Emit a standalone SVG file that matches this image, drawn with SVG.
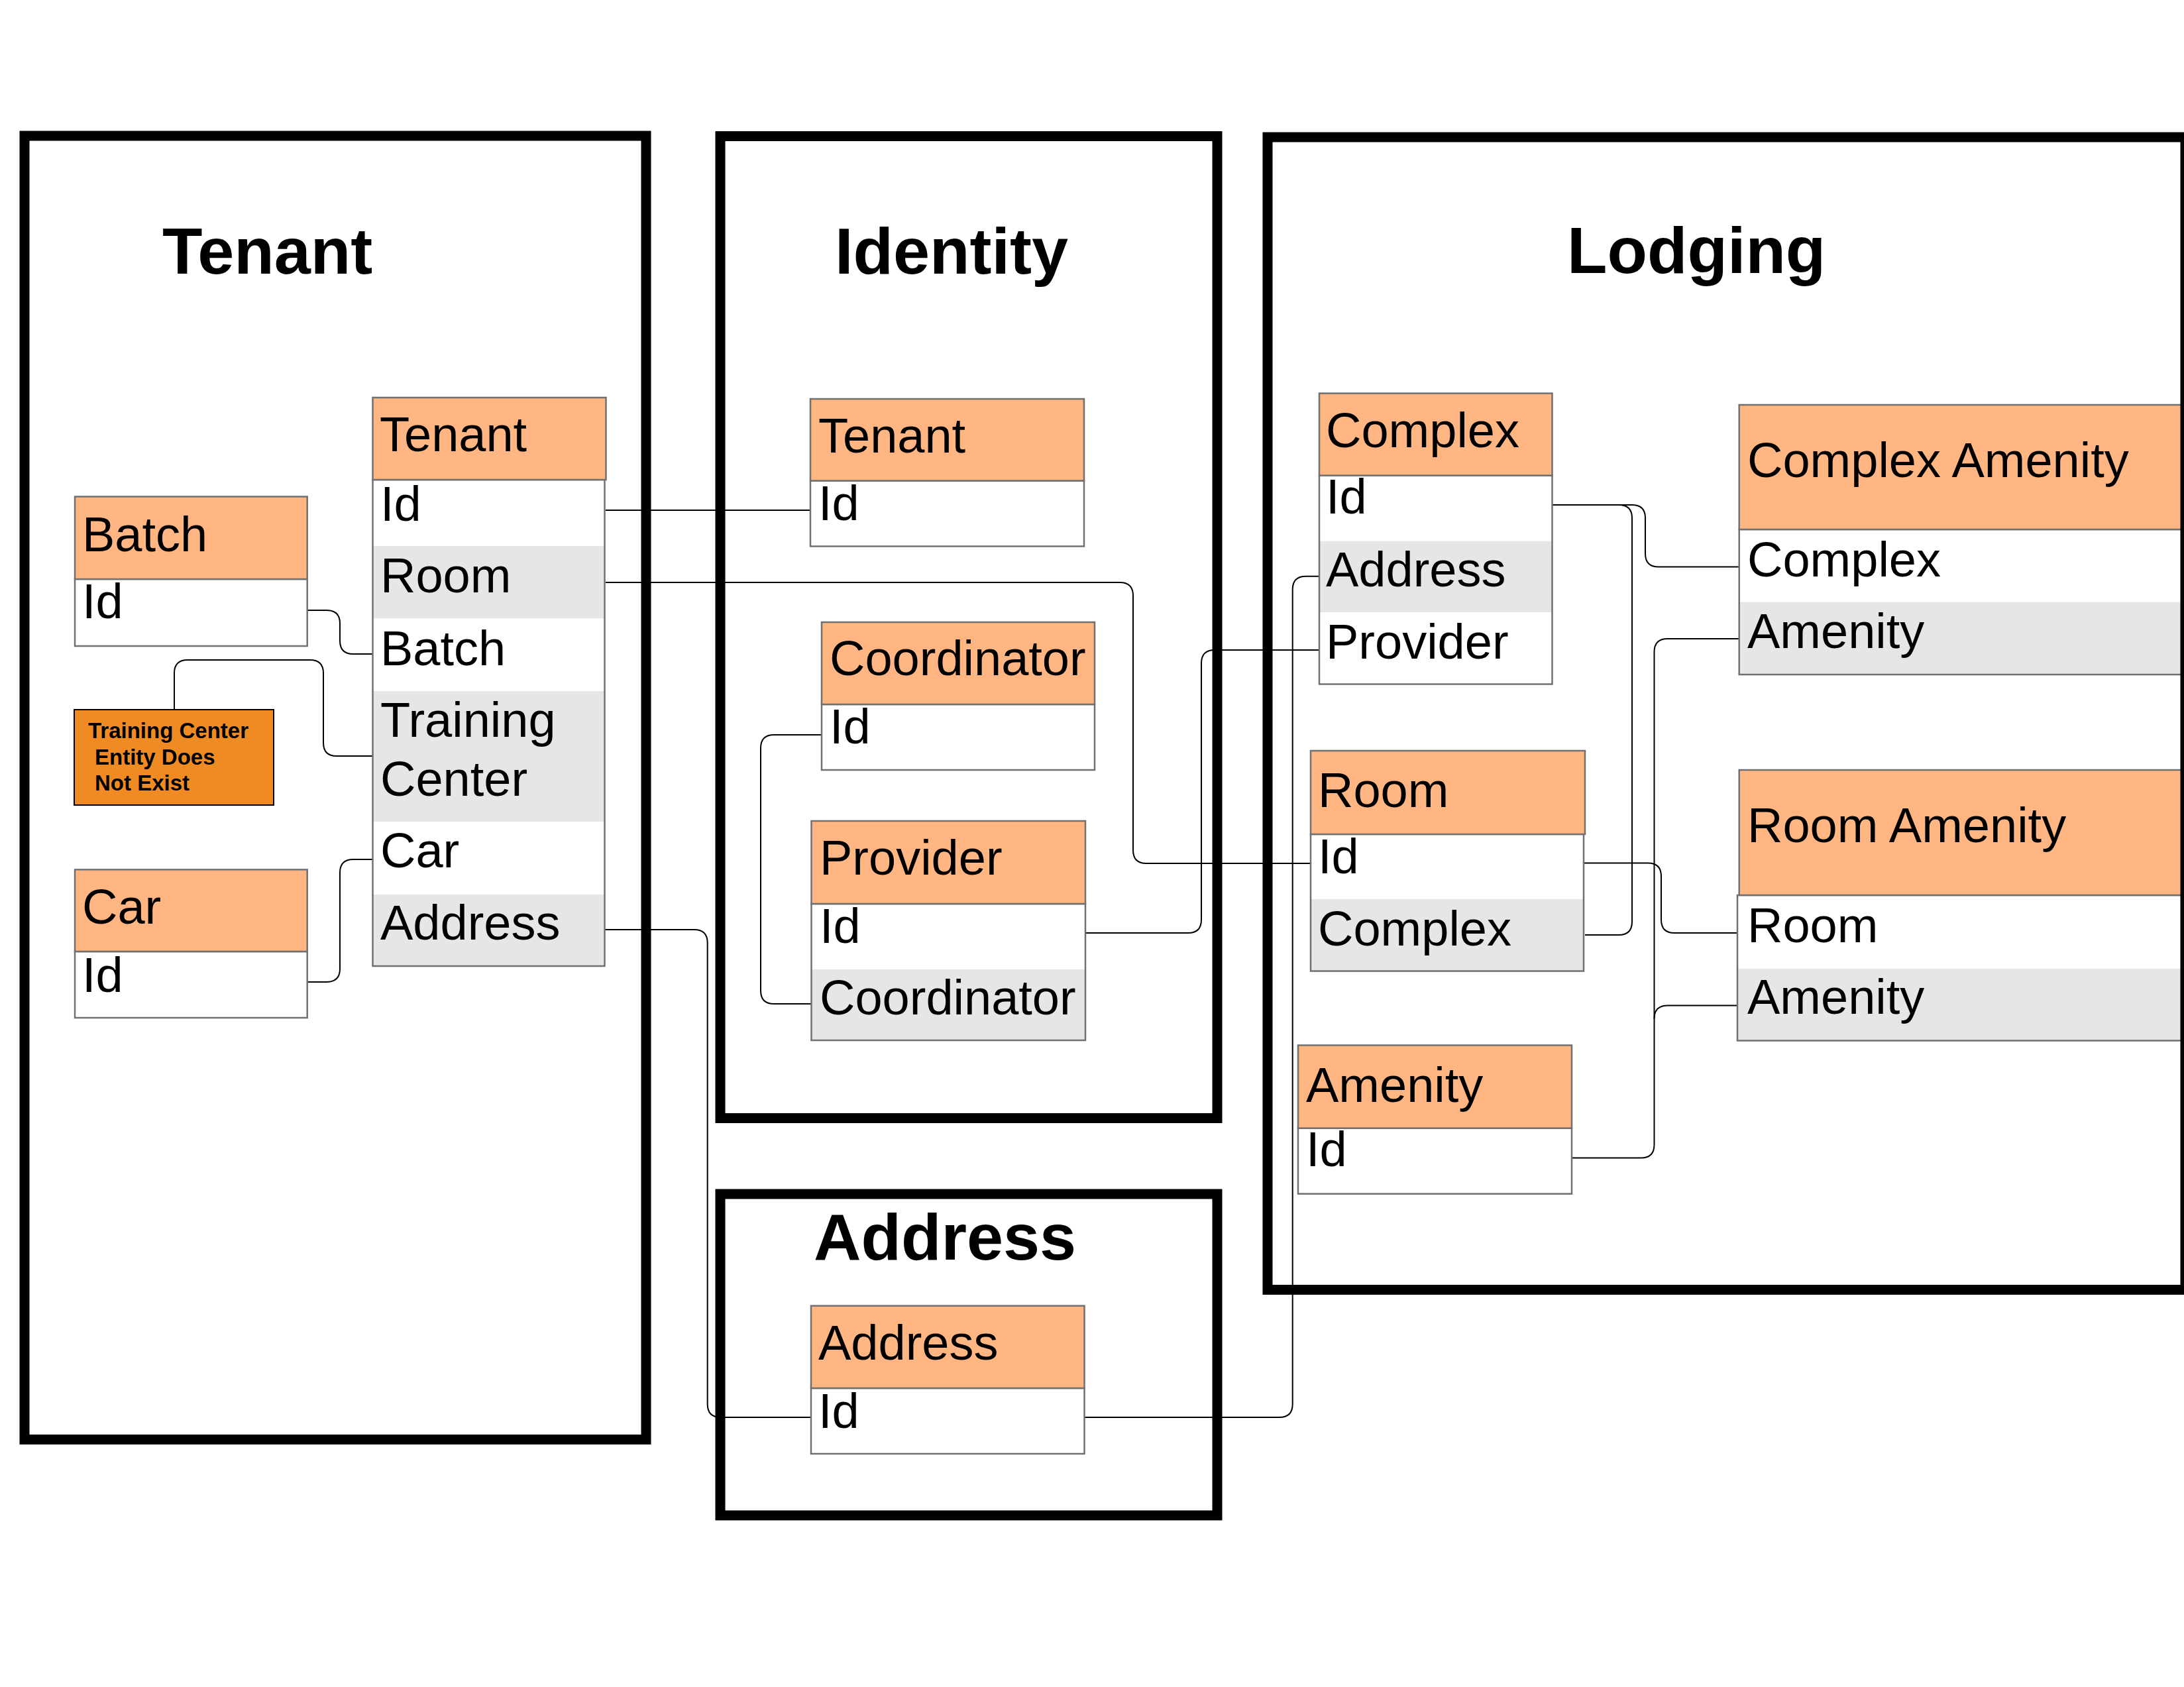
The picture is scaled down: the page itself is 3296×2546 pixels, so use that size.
<svg xmlns="http://www.w3.org/2000/svg" width="3296" height="2546" viewBox="0 0 3296 2546">
<style>
.frame{fill:none;stroke:#000;stroke-width:15}
.title{font-family:'Liberation Sans',Arial,sans-serif;font-weight:bold;font-size:99px;fill:#000}
.hdr{fill:#FFB682;stroke:#707070;stroke-width:2.5}
.bf{fill:#fff}
.alt{fill:#E6E6E6}
.bo{fill:none;stroke:#707070;stroke-width:2.5}
.t{font-family:'Liberation Sans',Arial,sans-serif;font-size:74px;fill:#000}
.note{fill:#F08B24;stroke:#000;stroke-width:2}
.nt{font-family:'Liberation Sans',Arial,sans-serif;font-weight:bold;font-size:33px;fill:#000}
.conn{fill:none;stroke:#000;stroke-width:2}
</style>
<rect width="3296" height="2546" fill="#fff"/>
<g id="connectors">
<path class="conn" d="M914 770 H1223"/>
<path class="conn" d="M914 879 H1690 Q1710 879 1710 899 V1283 Q1710 1303 1730 1303 H1978"/>
<path class="conn" d="M463.7 921 H493 Q513 921 513 941 V967 Q513 987 533 987 H562.5"/>
<path class="conn" d="M263 1071 V1016 Q263 996 283 996 H468 Q488 996 488 1016 V1121 Q488 1141 508 1141 H562.5"/>
<path class="conn" d="M463.7 1482 H493 Q513 1482 513 1462 V1317 Q513 1297 533 1297 H562.5"/>
<path class="conn" d="M912.7 1403 H1047.7 Q1067.7 1403 1067.7 1423 V2119 Q1067.7 2139 1087.7 2139 H1224"/>
<path class="conn" d="M1636.5 2139 H1930.7 Q1950.7 2139 1950.7 2119 V889.7 Q1950.7 869.7 1970.7 869.7 H1991"/>
<path class="conn" d="M1240 1109 H1168 Q1148 1109 1148 1129 V1495 Q1148 1515 1168 1515 H1224.5"/>
<path class="conn" d="M1638 1408 H1793 Q1813 1408 1813 1388 V1001 Q1813 981 1833 981 H1991"/>
<path class="conn" d="M2342.5 762 H2443 Q2463 762 2463 782 V1391 Q2463 1411 2443 1411 H2392"/>
<path class="conn" d="M2342.5 762 H2463 Q2483 762 2483 782 V835.5 Q2483 855.5 2503 855.5 H2624.7"/>
<path class="conn" d="M2390 1302.6 H2487 Q2507 1302.6 2507 1322.6 V1388 Q2507 1408 2527 1408 H2622"/>
<path class="conn" d="M2372 1747.5 H2476.5 Q2496.5 1747.5 2496.5 1727.5 V984 Q2496.5 964 2516.5 964 H2624.7"/>
<path class="conn" d="M2496.5 1537.5 Q2496.5 1517.5 2516.5 1517.5 H2622"/>
</g>
<g id="tenant-table">
<rect class="bf" x="562.5" y="724" width="350" height="734"/>
<rect class="alt" x="562.5" y="824" width="350" height="109.5"/>
<rect class="alt" x="562.5" y="1043" width="350" height="197"/>
<rect class="alt" x="562.5" y="1350" width="350" height="108"/>
<rect class="bo" x="562.5" y="724" width="350" height="734"/>
<rect class="hdr" x="562.5" y="600" width="352" height="124"/>
<text class="t" x="573" y="681">Tenant</text>
<text class="t" x="574" y="786">Id</text>
<text class="t" x="574" y="894">Room</text>
<text class="t" x="574" y="1004">Batch</text>
<text class="t" x="574" y="1112">Training</text>
<text class="t" x="574" y="1201">Center</text>
<text class="t" x="574" y="1309">Car</text>
<text class="t" x="574" y="1418">Address</text>
</g>
<g id="batch-table">
<rect class="bf" x="113" y="874" width="350.7" height="101"/>
<rect class="bo" x="113" y="874" width="350.7" height="101"/>
<rect class="hdr" x="113" y="749.5" width="350.7" height="124.5"/>
<text class="t" x="124" y="832">Batch</text>
<text class="t" x="124" y="933">Id</text>
</g>
<g id="training-note">
<rect class="note" x="112" y="1071" width="301" height="144"/>
<text class="nt" x="133" y="1114">Training Center</text>
<text class="nt" x="143" y="1154">Entity Does</text>
<text class="nt" x="143" y="1193">Not Exist</text>
</g>
<g id="car-table">
<rect class="bf" x="113" y="1436" width="350.7" height="100"/>
<rect class="bo" x="113" y="1436" width="350.7" height="100"/>
<rect class="hdr" x="113" y="1312.4" width="350.7" height="123.6"/>
<text class="t" x="124" y="1394">Car</text>
<text class="t" x="124" y="1497">Id</text>
</g>
<g id="identity-tenant-table">
<rect class="bf" x="1223" y="725.5" width="413" height="99"/>
<rect class="bo" x="1223" y="725.5" width="413" height="99"/>
<rect class="hdr" x="1223" y="602" width="413" height="123.5"/>
<text class="t" x="1235" y="683">Tenant</text>
<text class="t" x="1235" y="785">Id</text>
</g>
<g id="coordinator-table">
<rect class="bf" x="1240" y="1063" width="412" height="99"/>
<rect class="bo" x="1240" y="1063" width="412" height="99"/>
<rect class="hdr" x="1240" y="939" width="412" height="124"/>
<text class="t" x="1252" y="1019">Coordinator</text>
<text class="t" x="1252" y="1122">Id</text>
</g>
<g id="provider-table">
<rect class="bf" x="1224.5" y="1364" width="413.5" height="206"/>
<rect class="alt" x="1224.5" y="1463" width="413.5" height="107"/>
<rect class="bo" x="1224.5" y="1364" width="413.5" height="206"/>
<rect class="hdr" x="1224.5" y="1239" width="413.5" height="125"/>
<text class="t" x="1237" y="1320">Provider</text>
<text class="t" x="1237" y="1423">Id</text>
<text class="t" x="1237" y="1531">Coordinator</text>
</g>
<g id="address-table">
<rect class="bf" x="1224" y="2095" width="412.5" height="99"/>
<rect class="bo" x="1224" y="2095" width="412.5" height="99"/>
<rect class="hdr" x="1224" y="1970.7" width="412.5" height="124.3"/>
<text class="t" x="1235" y="2052">Address</text>
<text class="t" x="1235" y="2155">Id</text>
</g>
<g id="complex-table">
<rect class="bf" x="1991" y="717.5" width="351.5" height="315"/>
<rect class="alt" x="1991" y="816.6" width="351.5" height="107.4"/>
<rect class="bo" x="1991" y="717.5" width="351.5" height="315"/>
<rect class="hdr" x="1991" y="593.6" width="351.5" height="124"/>
<text class="t" x="2001" y="675">Complex</text>
<text class="t" x="2001" y="775">Id</text>
<text class="t" x="2001" y="885">Address</text>
<text class="t" x="2001" y="993.6">Provider</text>
</g>
<g id="room-table">
<rect class="bf" x="1978" y="1259" width="412" height="206.5"/>
<rect class="alt" x="1978" y="1357" width="412" height="108.5"/>
<rect class="bo" x="1978" y="1259" width="412" height="206.5"/>
<rect class="hdr" x="1978" y="1133" width="414" height="126"/>
<text class="t" x="1989" y="1218">Room</text>
<text class="t" x="1989" y="1318">Id</text>
<text class="t" x="1989" y="1426.5">Complex</text>
</g>
<g id="amenity-table">
<rect class="bf" x="1959" y="1702.6" width="413" height="99.1"/>
<rect class="bo" x="1959" y="1702.6" width="413" height="99.1"/>
<rect class="hdr" x="1959" y="1577.5" width="413" height="125.1"/>
<text class="t" x="1971" y="1662.5">Amenity</text>
<text class="t" x="1971" y="1760">Id</text>
</g>
<g id="complex-amenity-table">
<rect class="bf" x="2624.7" y="799" width="700" height="219"/>
<rect class="alt" x="2624.7" y="908.6" width="700" height="109.4"/>
<rect class="bo" x="2624.7" y="799" width="700" height="219"/>
<rect class="hdr" x="2624.7" y="611" width="700" height="188"/>
<text class="t" x="2637" y="720">Complex Amenity</text>
<text class="t" x="2637" y="869.7">Complex</text>
<text class="t" x="2637" y="978">Amenity</text>
</g>
<g id="room-amenity-table">
<rect class="bf" x="2622" y="1351" width="700" height="219.5"/>
<rect class="alt" x="2622" y="1462" width="700" height="108.5"/>
<rect class="bo" x="2622" y="1351" width="700" height="219.5"/>
<rect class="hdr" x="2624.7" y="1162" width="700" height="189"/>
<text class="t" x="2637" y="1271">Room Amenity</text>
<text class="t" x="2637" y="1422">Room</text>
<text class="t" x="2637" y="1530">Amenity</text>
</g>
<g id="frames">
<rect class="frame" x="37" y="205" width="938" height="1967.5"/>
<rect class="frame" x="1087" y="205.5" width="750" height="1482"/>
<rect class="frame" x="1087" y="1802" width="750" height="485"/>
<rect class="frame" x="1913" y="207" width="1385" height="1739.5"/>
<text class="title" x="245" y="413">Tenant</text>
<text class="title" x="1260" y="413">Identity</text>
<text class="title" x="2365" y="412">Lodging</text>
<text class="title" x="1228" y="1901">Address</text>
</g>
</svg>
